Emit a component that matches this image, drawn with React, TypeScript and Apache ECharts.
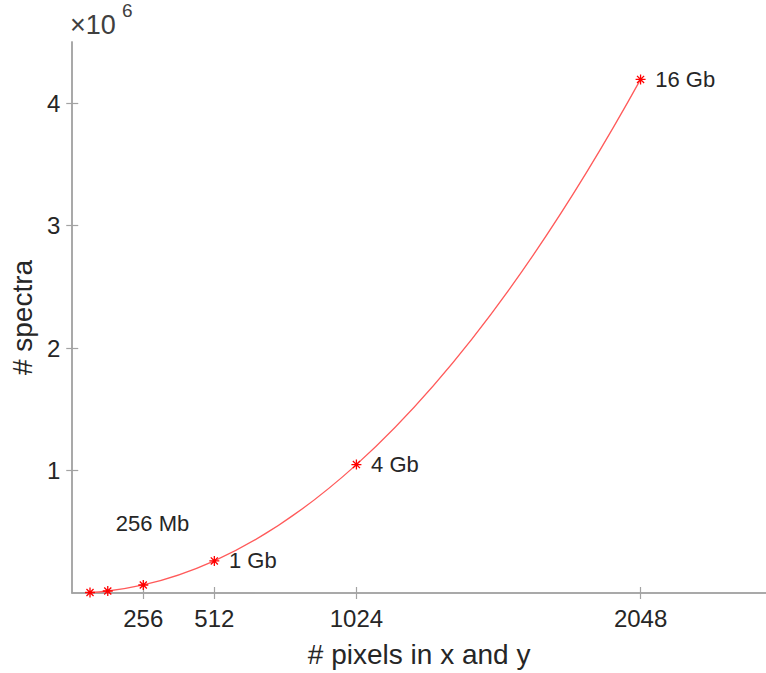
import React, { useEffect, useRef } from "react";
import * as echarts from "echarts";

const pixelCounts = [64, 128, 256, 512, 1024, 2048];
const spectraCounts = [4096, 16384, 65536, 262144, 1048576, 4194304];
const pointLabels = ["", "", "", "1 Gb", "4 Gb", "16 Gb"];
const xTicks = [256, 512, 1024, 2048];
const yTicks = [1000000, 2000000, 3000000, 4000000];
const floatingLabels = [{ text: "256 Mb", x: 157, y: 567000 }];

const FONT = "'Liberation Sans', Arial, Helvetica, sans-serif";
const AXIS_COLOR = "#a3a3a3";
const TEXT_COLOR = "#262626";

const asterisk =
  "path://M5,0 L5,10 M0,5 L10,5 M1.46,1.46 L8.54,8.54 M1.46,8.54 L8.54,1.46";

// Slopes at each data point (3-point non-uniform finite differences),
// used for a Hermite spline drawn through the data points.
function slopes(xs: number[], ys: number[]): number[] {
  const n = xs.length;
  const d: number[] = [];
  for (let i = 0; i < n; i++) {
    let a: number, b: number, c: number;
    if (i === 0) { a = 0; b = 1; c = 2; }
    else if (i === n - 1) { a = n - 3; b = n - 2; c = n - 1; }
    else { a = i - 1; b = i; c = i + 1; }
    const x0 = xs[a], x1 = xs[b], x2 = xs[c];
    const y0 = ys[a], y1 = ys[b], y2 = ys[c];
    const x = xs[i];
    const t0 = (y0 * ((x - x1) + (x - x2))) / ((x0 - x1) * (x0 - x2));
    const t1 = (y1 * ((x - x0) + (x - x2))) / ((x1 - x0) * (x1 - x2));
    const t2 = (y2 * ((x - x0) + (x - x1))) / ((x2 - x0) * (x2 - x1));
    d.push(t0 + t1 + t2);
  }
  return d;
}
const tangents = slopes(pixelCounts, spectraCounts);

export default function App() {
  const ref = useRef<HTMLDivElement>(null);
  useEffect(() => {
    document.body.style.margin = "0";
    document.body.style.overflow = "hidden";
    if (!ref.current) return;
    const chart = echarts.init(ref.current, null, { renderer: "svg" });
    const axisLine = { show: true, lineStyle: { color: AXIS_COLOR, width: 1.5 } };
    const tick = (vals: number[]) => ({
      show: true,
      inside: true,
      length: 6,
      customValues: vals,
      lineStyle: { color: AXIS_COLOR, width: 1.2 },
    });
    chart.setOption({
      animation: false,
      grid: { left: 68, right: -4, top: 42, bottom: 73, containLabel: false },
      xAxis: [
        {
          type: "value",
          min: 0,
          max: 2500,
          position: "bottom",
          axisLine,
          axisTick: tick(xTicks),
          splitLine: { show: false },
          axisLabel: {
            customValues: xTicks,
            formatter: (v: number) => String(v),
            fontSize: 24,
            color: TEXT_COLOR,
            fontFamily: FONT,
            margin: 13,
          },
          name: "# pixels in x and y",
          nameLocation: "middle",
          nameGap: 47,
          nameTextStyle: { fontSize: 28, color: TEXT_COLOR, fontFamily: FONT },
        },
        {
          type: "value",
          min: 0,
          max: 2500,
          position: "top",
          axisLine,
          axisTick: tick(xTicks),
          splitLine: { show: false },
          axisLabel: { show: false },
        },
      ],
      yAxis: [
        {
          type: "value",
          min: 0,
          max: 4500000,
          position: "left",
          axisLine,
          axisTick: tick(yTicks),
          splitLine: { show: false },
          axisLabel: {
            customValues: yTicks,
            formatter: (v: number) => String(v / 1000000),
            fontSize: 24,
            color: TEXT_COLOR,
            fontFamily: FONT,
            margin: 12,
          },
          name: "# spectra",
          nameLocation: "middle",
          nameGap: 28,
          nameTextStyle: { fontSize: 28, color: TEXT_COLOR, fontFamily: FONT },
        },
        {
          type: "value",
          min: 0,
          max: 4500000,
          position: "right",
          axisLine,
          axisTick: tick(yTicks),
          splitLine: { show: false },
          axisLabel: { show: false },
        },
      ],
      graphic: [
        {
          type: "text",
          left: 70,
          top: 11,
          style: { text: "×10", fontSize: 27, fill: "#404040", fontFamily: FONT },
        },
        {
          type: "text",
          left: 122,
          top: 1,
          style: { text: "6", fontSize: 19, fill: "#404040", fontFamily: FONT },
        },
      ],
      series: [
        {
          type: "custom",
          xAxisIndex: 0,
          yAxisIndex: 0,
          data: pixelCounts.map((x, i) => [x, spectraCounts[i]]),
          silent: true,
          z: 2,
          renderItem: (params: any, api: any) => {
            const i = params.dataIndex;
            if (i >= pixelCounts.length - 1) return null;
            const x0 = pixelCounts[i], x1 = pixelCounts[i + 1];
            const y0 = spectraCounts[i], y1 = spectraCounts[i + 1];
            const h = x1 - x0;
            const p0 = api.coord([x0, y0]);
            const p1 = api.coord([x1, y1]);
            const c0 = api.coord([x0 + h / 3, y0 + (tangents[i] * h) / 3]);
            const c1 = api.coord([x1 - h / 3, y1 - (tangents[i + 1] * h) / 3]);
            return {
              type: "bezierCurve",
              shape: {
                x1: p0[0], y1: p0[1], x2: p1[0], y2: p1[1],
                cpx1: c0[0], cpy1: c0[1], cpx2: c1[0], cpy2: c1[1],
              },
              style: { stroke: "#ff5a5a", lineWidth: 1.3, fill: "none" },
            };
          },
        },
        {
          type: "scatter",
          xAxisIndex: 0,
          yAxisIndex: 0,
          z: 3,
          data: pixelCounts.map((x, i) => ({
            value: [x, spectraCounts[i]],
            label: {
              show: pointLabels[i] !== "",
              formatter: pointLabels[i],
              position: "right",
              distance: 9,
              fontSize: 22,
              color: TEXT_COLOR,
              fontFamily: FONT,
            },
          })),
          symbol: asterisk,
          symbolSize: 10,
          itemStyle: { color: "rgba(0,0,0,0)", borderColor: "#ff0000", borderWidth: 1.3, opacity: 1 },
          emphasis: { disabled: true },
        },
        {
          type: "scatter",
          xAxisIndex: 0,
          yAxisIndex: 0,
          symbolSize: 0,
          data: floatingLabels.map((d) => ({ value: [d.x, d.y], name: d.text })),
          itemStyle: { opacity: 1 },
          label: {
            show: true,
            formatter: "{b}",
            position: "right",
            distance: 0,
            fontSize: 22,
            color: TEXT_COLOR,
            fontFamily: FONT,
          },
          emphasis: { disabled: true },
        },
      ],
    });
    return () => chart.dispose();
  }, []);
  return <div ref={ref} style={{ width: 766, height: 673 }} />;
}
